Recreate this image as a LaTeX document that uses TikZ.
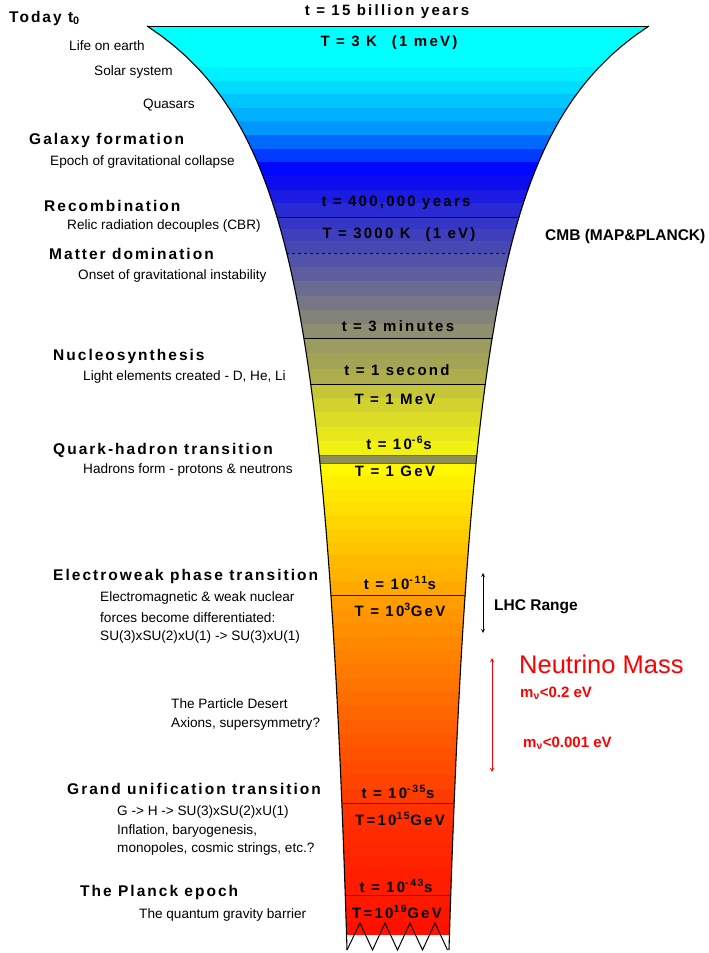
\documentclass[tikz,border=0pt]{standalone}
\usepackage{fontspec}
\setmainfont{Liberation Sans}
\newfontfamily\spacedfont[LetterSpace=13]{Liberation Sans}
\newfontfamily\valuefont[LetterSpace=15]{Liberation Sans}
\usetikzlibrary{calc}
\definecolor{cyanTop}{HTML}{00FFFF}
\definecolor{cyanLow}{HTML}{00F0FF}
\definecolor{skyMid}{HTML}{00B0FF}
\definecolor{skyLow}{HTML}{0098FF}
\definecolor{blueDeep}{HTML}{0008FF}
\definecolor{blueDark}{HTML}{0C0CEE}
\definecolor{indigoA}{HTML}{2A2AD4}
\definecolor{indigoB}{HTML}{3636C6}
\definecolor{indigoC}{HTML}{4848B2}
\definecolor{slateA}{HTML}{5252A8}
\definecolor{slateB}{HTML}{8E8E70}
\definecolor{oliveA}{HTML}{9C9C60}
\definecolor{oliveB}{HTML}{ADAD4C}
\definecolor{lemonA}{HTML}{C6C63A}
\definecolor{lemonB}{HTML}{F2F212}
\definecolor{hadronBand}{HTML}{8E8E58}
\definecolor{hadronEdge}{HTML}{6E6E46}
\definecolor{yellowA}{HTML}{FFF800}
\definecolor{yellowB}{HTML}{FFA800}
\definecolor{orangeA}{HTML}{FF9C00}
\definecolor{orangeB}{HTML}{FF3C00}
\definecolor{redA}{HTML}{FF3200}
\definecolor{redB}{HTML}{FF1000}
\definecolor{brownLine}{HTML}{701800}
\tikzstyle{stage}=[anchor=west, inner sep=0pt, font=\spacedfont\bfseries\fontsize{15.5}{18}\selectfont]
\tikzstyle{note}=[anchor=west, inner sep=0pt, font=\fontsize{13.6}{16}\selectfont]
\tikzstyle{value}=[inner sep=0pt, font=\valuefont\bfseries\fontsize{15}{18}\selectfont]
\tikzstyle{side}=[anchor=west, inner sep=0pt, font=\bfseries\fontsize{15.5}{18}\selectfont]
\tikzstyle{nu}=[anchor=west, inner sep=0pt, text=red, font=\bfseries\fontsize{15}{18}\selectfont]
\newcommand{\eraLine}[2]{%
    \draw [#1] (100,#2) -- (700,#2);
}
% half width of the funnel at height #1
\newcommand{\halfw}[1]{(18.3+351.31/(#1/100+1.25))}

\begin{document}
\begin{tikzpicture}[x=1pt, y=-1pt]
    \useasboundingbox (0,0) rectangle (709,953);

    % colour bands of the funnel
    \begin{scope}
    \clip plot[domain=26:950, samples=90, variable=\t] ({398-\halfw{\t}}, \t)
        -- plot[domain=950:26, samples=90, variable=\t] ({398+\halfw{\t}}, \t) -- cycle;
    \foreach \ya/\yb/\ca/\cb/\n in {26/67/cyanTop/cyanTop/3, 67/121/cyanLow/skyMid/4, 121/176/skyLow/blueDeep/4,
        176/217/blueDark/indigoA/3, 217/253/indigoB/indigoC/3, 253/338/slateA/slateB/6, 338/384/oliveA/oliveB/3,
        384/455/lemonA/lemonB/5, 463/595/yellowA/yellowB/10, 595/803/orangeA/orangeB/15, 803/935/redA/redB/10}{
        \pgfmathsetmacro{\h}{(\yb-\ya)/\n}
        \foreach \k in {1,...,\n}{
            \pgfmathtruncatemacro{\p}{100*(\k-1)/max(\n-1,1)}
            \fill [fill=\cb!\p!\ca] (100,{\ya+(\k-1)*\h}) rectangle (700,{\ya+\k*\h+0.5});
        }
    }
    \fill [hadronBand] (100,455) rectangle (700,463);
    \fill [white] (100,935) rectangle (700,960);

    %era lines
    \eraLine{line width=0.8pt}{217}
    \eraLine{line width=0.7pt, dashed}{253}
    \eraLine{line width=0.8pt}{338}
    \eraLine{line width=0.8pt}{384}
    \eraLine{hadronEdge, line width=0.6pt}{455}
    \eraLine{hadronEdge, line width=0.6pt}{463}
    \eraLine{line width=0.8pt, black!80!brown}{595}
    \eraLine{line width=1pt, brownLine}{803}
    \eraLine{line width=1pt, brownLine}{895}
    \end{scope}

    %outline
    \draw [line width=1.1pt] plot[domain=26:950, samples=90, variable=\t] ({398-\halfw{\t}}, \t);
    \draw [line width=1.1pt] plot[domain=26:950, samples=90, variable=\t] ({398+\halfw{\t}}, \t);
    \draw [line width=1pt] (147,26) -- (649,26);
    \draw [line width=1pt] (347,950) \foreach \x in {360,385,410,435}{ -- (\x,923) -- (\x+12.5,950)};

    %funnel values
    \node [value] (tNow) at (387,12) {t = 15 billion years};
    \node [value] (TNow) at (389,43) {T = 3 K\quad(1 meV)};
    \node [value] (tRec) at (396,203) {t = 400,000 years};
    \node [value] (TRec) at (399,235) {T = 3000 K\quad(1 eV)};
    \node [value] (tNuc) at (398,326) {t = 3 minutes};
    \node [value] (tSec) at (397,370) {t = 1 second};
    \node [value] (TMeV) at (395,399) {T = 1 MeV};
    \node [value] (tQH) at (399,443) {t = 10\textsuperscript{-6}s};
    \node [value] (TGeV) at (395,471) {T = 1 GeV};
    \node [value] (tEW) at (400,583) {t = 10\textsuperscript{-11}s};
    \node [value] (TEW) at (400,610) {T = 10\textsuperscript{3}GeV};
    \node [value] (tGUT) at (398,792) {t = 10\textsuperscript{-35}s};
    \node [value] (TGUT) at (400,819) {T=10\textsuperscript{15}GeV};
    \node [value] (tPl) at (396,886) {t = 10\textsuperscript{-43}s};
    \node [value] (TPl) at (397,912) {T=10\textsuperscript{19}GeV};

    %epochs
    \node [stage] (today) at (9,18) {Today t\textsubscript{0}};
    \node [note] (life) at (69,46) {Life on earth};
    \node [note] (solar) at (94,72) {Solar system};
    \node [note] (quasar) at (143,105) {Quasars};
    \node [stage] (galaxy) at (29,140) {Galaxy formation};
    \node [note] (collapse) at (50,162) {Epoch of gravitational collapse};
    \node [stage] (recomb) at (44,206) {Recombination};
    \node [note] (relic) at (67,226) {Relic radiation decouples (CBR)};
    \node [stage] (matter) at (49,254) {Matter domination};
    \node [note] (onset) at (78,276) {Onset of gravitational instability};
    \node [stage] (nucleo) at (53,356) {Nucleosynthesis};
    \node [note] (light) at (83,377) {Light elements created - D, He, Li};
    \node [stage] (quark) at (53,450) {Quark-hadron transition};
    \node [note] (hadron) at (83,470) {Hadrons form - protons \& neutrons};
    \node [stage] (ew) at (53,576) {Electroweak phase transition};
    \node [note] (ewA) at (100,598) {Electromagnetic \& weak nuclear};
    \node [note] (ewB) at (100,618) {forces become differentiated:};
    \node [note] (ewC) at (100,637) {SU(3)xSU(2)xU(1) -> SU(3)xU(1)};
    \node [note] (desert) at (171,704) {The Particle Desert};
    \node [note] (axion) at (171,724) {Axions, supersymmetry?};
    \node [stage] (gut) at (67,789) {Grand unification transition};
    \node [note] (gutA) at (117,812) {G -> H -> SU(3)xSU(2)xU(1)};
    \node [note] (gutB) at (117,831) {Inflation, baryogenesis,};
    \node [note] (gutC) at (117,849) {monopoles, cosmic strings, etc.?};
    \node [stage] (planck) at (80,892) {The Planck epoch};
    \node [note] (planckB) at (139,915) {The quantum gravity barrier};

    %experiments
    \node [side] (cmb) at (545,236) {CMB (MAP\&PLANCK)};
    \node [side] (lhc) at (494,607) {LHC Range};
    \coordinate (lhcTop) at (483,573);
    \coordinate (lhcBot) at (483,633);
    \draw [<->, >=stealth, line width=0.7pt] (lhcTop) -- (lhcBot);
    \node [anchor=west, inner sep=0pt, text=red, font=\fontsize{25.5}{30}\selectfont] (numass) at (519,664) {Neutrino Mass};
    \node [nu] (nuHigh) at (520,693) {m\textsubscript{ν}<0.2 eV};
    \node [nu] (nuLow) at (523,743) {m\textsubscript{ν}<0.001 eV};
    \coordinate (nuTop) at (492,658);
    \coordinate (nuBot) at (492,772);
    \draw [<->, >=stealth, red, line width=0.9pt] (nuTop) -- (nuBot);

\end{tikzpicture}
\end{document}
